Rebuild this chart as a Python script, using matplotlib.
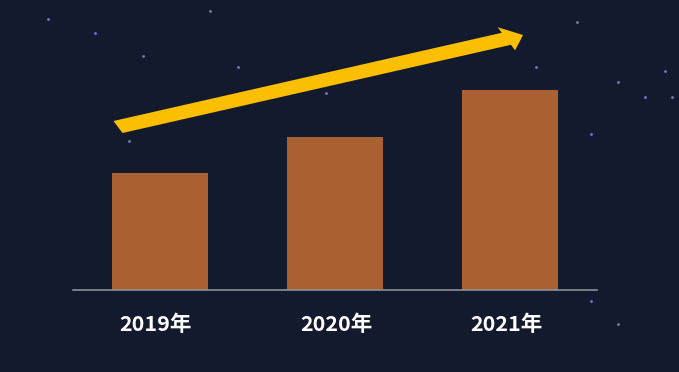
import matplotlib.pyplot as plt
from matplotlib.patches import FancyArrow

plt.rcParams['font.family'] = ['Noto Sans CJK SC', 'DejaVu Sans']

# 数据
years = ["2019年", "2020年", "2021年"]
values = [58.5, 76.5, 100]
label_shift = [-5, 1, -3]  # 标签水平偏移 (px)

bg = "#131a2d"
bar_color = "#ab6031"
arrow_color = "#fcbf00"

# 背景星星 (figure fraction)
stars_x = [0.07, 0.14, 0.21, 0.31, 0.35, 0.48, 0.79, 0.85, 0.87, 0.91, 0.95, 0.98, 0.99, 0.80, 0.87, 0.91, 0.19]
stars_y = [0.95, 0.91, 0.85, 0.97, 0.82, 0.75, 0.82, 0.94, 0.64, 0.78, 0.74, 0.81, 0.74, 0.40, 0.19, 0.13, 0.62]

fig = plt.figure(figsize=(6.79, 3.72), dpi=100, facecolor=bg)
ax = fig.add_axes([73 / 679, (372 - 290) / 372, (597 - 73) / 679, 270 / 372])
ax.set_facecolor("none")

fig.lines.append(plt.Line2D(stars_x, stars_y, transform=fig.transFigure,
                            ls="none", marker="o", ms=1.2, color="#6f7fb8",
                            alpha=0.8, zorder=-5))

x = list(range(len(years)))
ax.bar(x, values, width=0.55, color=bar_color, zorder=2)
ax.set_xlim(-0.5, 2.5)
ax.set_ylim(0, 135)

for s in ["top", "right", "left"]:
    ax.spines[s].set_visible(False)
ax.spines["bottom"].set_color("#8a8f9c")
ax.spines["bottom"].set_linewidth(1.2)
ax.set_yticks([])
ax.set_xticks([])

for i, lab in enumerate(years):
    ax.annotate(lab, xy=(i, 0), xytext=(label_shift[i] * 0.72, -25),
                textcoords="offset points", ha="center", va="center",
                color="white", fontsize=15.5, fontweight="bold",
                annotation_clip=False)

# 趋势箭头
x0, y0 = 118, 372 - 127
x1, y1 = 523, 372 - 35
arr = FancyArrow(x0 / 679, y0 / 372, (x1 - x0) / 679, (y1 - y0) / 372,
                 width=13 / 372, head_width=25 / 372, head_length=18 / 679,
                 length_includes_head=True, transform=fig.transFigure,
                 color=arrow_color, lw=0)
fig.patches.append(arr)

fig.savefig("out.png", dpi=100, facecolor=bg)
